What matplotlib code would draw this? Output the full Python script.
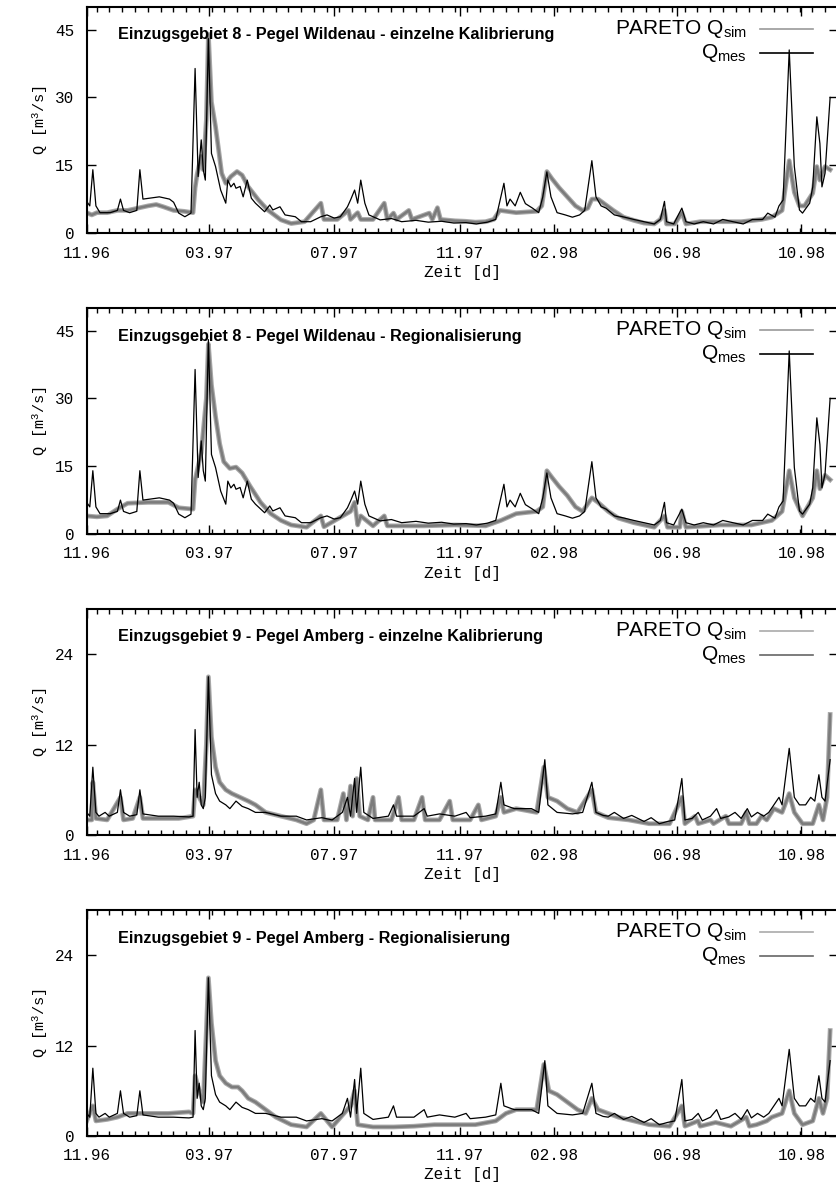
import matplotlib
matplotlib.use("Agg")
import matplotlib.pyplot as plt

plt.rcParams["mathtext.default"] = "regular"

# x axis: days since 1.11.1996
tick_days = [0, 120, 242, 365, 457, 577, 699]
tick_labels = ["11.96", "03.97", "07.97", "11.97", "02.98", "06.98", "10.98"]

# Pegel Wildenau, gemessen (panels 1+2)
mes_w_days = [0, 3, 6, 9, 13, 23, 30, 33, 36, 42, 49, 52, 55, 71, 81, 85, 90, 96, 102, 106,
              109, 112, 114, 116, 119, 122, 126, 131, 136, 138, 141, 144, 146, 150, 153, 157,
              161, 165, 174, 179, 182, 189, 194, 204, 210, 219, 229, 235, 242, 248, 255, 258,
              262, 265, 268, 272, 276, 287, 298, 308, 322, 334, 347, 359, 371, 381, 392, 400,
              405, 408, 411, 414, 419, 424, 429, 436, 442, 446, 450, 454, 460, 468, 475, 482,
              487, 494, 498, 503, 508, 516, 526, 535, 545, 555, 561, 565, 567, 574, 582, 586,
              594, 603, 613, 622, 632, 642, 651, 661, 666, 673, 677, 681, 687, 692, 697, 700,
              707, 710, 714, 717, 719, 722, 727]
mes_w_q = [7, 6, 14, 6, 4.5, 4.5, 5, 7.5, 5, 4.5, 5, 14, 7.5, 8, 7.5, 6.8, 4.4, 3.6, 4.4, 36.4,
           12.5, 20.6, 14, 11.7, 43, 17.6, 14.7, 9.5, 6.6, 11.7, 10.2, 11, 9.9, 10.3, 8, 11.7,
           7.7, 6.6, 4.7, 6.2, 5.1, 5.8, 4, 3.6, 2.5, 2.5, 3.6, 4, 3.3, 3.6, 5.8, 7.3,
           9.5, 6.6, 11.7, 6.6, 4, 2.9, 3.2, 2.5, 2.8, 2.4, 2.6, 2.2, 2.3, 2, 2.4, 3,
           8, 11, 6, 7.5, 6, 9, 6.5, 5.5, 4.5, 8, 13.5, 8, 4.5, 4, 3.5, 4,
           5, 16, 8, 6, 5.5, 4, 3.5, 3, 2.5, 2, 3, 7, 2.5, 2, 5.5, 2.5,
           2, 2.5, 2, 3, 2.5, 2, 3, 3, 4.4, 3.5, 6, 7.3, 40.5, 14.7, 5.1, 4.4,
           6.6, 10.2, 25.7, 19.8, 10.2, 13.2, 30]

# Wildenau, PARETO Simulation - einzelne Kalibrierung
sim1_days = [0, 5, 10, 20, 30, 40, 50, 60, 68, 75, 85, 95, 104, 106, 108, 112, 114, 117, 119,
             122, 126, 129, 132, 136, 141, 147, 152, 158, 168, 177, 190, 200, 213, 229, 232,
             245, 256, 258, 265, 268, 280, 291, 294, 300, 303, 315, 318, 335, 338, 343, 346,
             360, 370, 380, 390, 398, 404, 420, 440, 445, 450, 455, 462, 470, 478, 485, 490,
             494, 500, 506, 515, 525, 535, 545, 555, 561, 565, 567, 575, 582, 586, 600, 620,
             640, 660, 670, 680, 687, 692, 697, 702, 710, 714, 717, 722, 727]
sim1_q = [4.5, 4, 4.5, 4.5, 5, 5, 5.5, 6, 6.3, 5.8, 5, 4.8, 4.5, 10, 13, 17, 14, 25, 44,
          29, 23.5, 18.4, 13.2, 11, 12.5, 13.6, 12.8, 10.2, 7.3, 5.1, 2.9, 2.1, 2.5, 6.6, 3,
          3, 5, 3, 4.5, 3, 3, 6.6, 3, 4.4, 3, 5, 3, 4.4, 3, 5.6, 3,
          2.7, 2.6, 2.4, 2.5, 3, 5, 4.5, 4.8, 6, 13.6, 12, 10, 8, 6, 5, 5.5,
          7.5, 7.5, 6.5, 5, 3.5, 2.8, 2.2, 2, 3, 5, 2, 2, 4.5, 2, 2.5, 2.5,
          2.5, 3, 3.5, 5, 16, 9, 6, 6, 8.8, 14.7, 11.7, 14.7, 14]

# Wildenau, PARETO Simulation - Regionalisierung
sim2_days = [0, 10, 20, 30, 40, 60, 80, 90, 104, 106, 112, 117, 119, 122, 126, 130, 134, 140,
             146, 152, 160, 170, 180, 190, 200, 215, 229, 232, 258, 262, 265, 268, 280, 291,
             294, 300, 330, 360, 390, 405, 420, 440, 446, 450, 455, 462, 470, 478, 485, 494,
             500, 510, 520, 535, 555, 565, 568, 580, 582, 586, 620, 650, 670, 680, 687, 692,
             700, 710, 714, 717, 722, 727]
sim2_q = [4, 3.8, 4, 5.5, 6.8, 7, 7, 5.8, 5.5, 12, 18, 30, 42, 33, 26, 20, 16, 14.5,
          14.8, 13.5, 10.5, 7, 4.5, 3, 2, 1.5, 4, 1.6, 5, 7, 2, 4, 1.8, 4,
          1.8, 1.8, 1.8, 2, 1.8, 3, 4.5, 5, 6, 14, 12.5, 10.5, 8.5, 6, 5, 8,
          7, 5, 3.5, 2.5, 1.5, 4, 1.5, 1.5, 5, 1.5, 2, 2, 3, 5, 14, 8,
          4, 8, 14, 10, 13, 12]

# Pegel Amberg, gemessen (panels 3+4)
mes_a_days = [0, 3, 6, 9, 12, 18, 22, 30, 33, 36, 42, 49, 52, 55, 70, 85, 100, 104, 106, 108,
              110, 112, 114, 116, 119, 122, 126, 130, 136, 140, 146, 152, 158, 165, 175, 190,
              205, 215, 230, 240, 250, 255, 258, 262, 264, 268, 271, 280, 295, 300, 303, 320,
              330, 333, 345, 360, 371, 375, 390, 400, 405, 408, 418, 425, 435, 442, 448, 451,
              460, 475, 485, 494, 498, 505, 510, 516, 525, 533, 545, 552, 560, 568, 575, 582,
              585, 592, 598, 602, 610, 616, 620, 628, 634, 640, 646, 650, 656, 662, 667,
              672, 677, 680, 687, 692, 697, 703, 708, 712, 716, 719, 722, 727]
mes_a_q = [3, 2.5, 9, 3, 2.5, 3, 2.5, 3, 6, 3, 2.5, 2.7, 6, 2.8, 2.5, 2.5, 2.4, 2.5, 14, 5,
           7, 4, 3.5, 5, 21, 8, 5.5, 4.5, 4, 3.5, 4.5, 3.8, 3.5, 3, 3, 2.5,
           2.5, 2, 2.3, 2, 3, 5, 2.5, 7.5, 3, 9, 3, 2.2, 2.5, 4, 2.5, 2.5,
           3.5, 2.5, 2.8, 2.5, 3, 2.3, 2.5, 2.8, 7, 4, 3.5, 3.5, 3.5, 3, 10, 4,
           3, 2.8, 3, 7, 3, 2.6, 2.5, 3, 2.2, 2.6, 1.8, 2.3, 1.5, 1.8, 2, 7.5,
           2, 2.2, 3, 2, 2.5, 3.5, 2.2, 2.5, 3, 2.2, 3.5, 2.4, 3, 2.5, 3,
           4, 5, 4, 11.5, 5, 4, 4, 5, 4.5, 8, 5, 4.5, 10]

# Amberg, PARETO Simulation - einzelne Kalibrierung
sim3_days = [0, 5, 6, 9, 20, 33, 36, 45, 52, 55, 70, 90, 104, 106, 110, 114, 117, 119, 122,
             126, 130, 136, 142, 150, 158, 165, 175, 190, 205, 215, 222, 229, 232, 245, 251,
             254, 258, 260, 264, 267, 275, 280, 282, 298, 305, 308, 320, 328, 331, 345, 355,
             358, 375, 383, 386, 400, 405, 408, 420, 440, 447, 451, 460, 470, 480, 494, 498,
             510, 530, 550, 570, 582, 585, 595, 598, 610, 613, 625, 628, 640, 645, 648, 655,
             660, 665, 672, 680, 687, 692, 700, 710, 716, 720, 724, 727]
sim3_q = [2, 2, 7, 2.2, 2, 5, 2, 2.2, 5, 2.2, 2.2, 2.2, 2.5, 6, 5, 4, 12, 21, 13,
          9, 7, 6, 5.5, 5, 4.5, 4, 3, 2.5, 2, 1.5, 2, 6, 2, 2, 5.5,
          2, 6.5, 2.5, 7.5, 2.5, 2, 5, 2, 2, 5, 2, 2, 5, 2, 2, 4.5,
          2, 2, 4, 2, 2.5, 5, 3, 3.5, 3, 9, 5, 4.5, 3.5, 3, 6, 3,
          2.3, 2, 1.5, 1.5, 5, 1.5, 2.5, 1.5, 2, 1.5, 2.5, 1.5, 1.5, 3, 1.5, 1.5,
          2.5, 2, 3.5, 3, 5.5, 3, 1.5, 1.5, 4, 2, 5, 16]

# Amberg, PARETO Simulation - Regionalisierung
sim4_days = [0, 6, 9, 20, 30, 40, 60, 80, 100, 104, 106, 110, 114, 117, 119, 122, 126, 130,
             136, 142, 148, 152, 158, 165, 175, 185, 200, 215, 229, 240, 258, 262, 265, 280,
             300, 320, 340, 360, 380, 400, 410, 420, 440, 447, 452, 460, 470, 480, 488, 494,
             500, 510, 520, 535, 550, 570, 582, 585, 598, 600, 615, 630, 645, 648, 655, 665,
             670, 680, 687, 692, 700, 710, 716, 720, 724, 727]
sim4_q = [2, 4, 2, 2.2, 2.5, 3, 3, 3, 3.2, 3, 8, 6, 4.5, 14, 21, 15, 10, 8,
          7, 6.5, 6.5, 6, 5, 4.5, 3.5, 2.5, 1.5, 1.2, 3, 1.2, 4, 6, 1.5, 1.2,
          1.2, 1.3, 1.5, 1.5, 1.5, 2, 3, 3.5, 3.5, 9.5, 6, 5.5, 4.5, 3.5, 3, 5,
          3.5, 3, 2.5, 2, 1.5, 1.3, 4, 1.3, 2, 1.3, 1.8, 1.3, 2.5, 1.3, 1.5, 2,
          2.5, 3, 6, 3, 1.5, 2, 5, 3, 5, 14]

titles = ["Einzugsgebiet 8 - Pegel Wildenau - einzelne Kalibrierung",
          "Einzugsgebiet 8 - Pegel Wildenau - Regionalisierung",
          "Einzugsgebiet 9 - Pegel Amberg - einzelne Kalibrierung",
          "Einzugsgebiet 9 - Pegel Amberg - Regionalisierung"]
y_max = [50, 50, 30, 30]
y_ticks = [[0, 15, 30, 45], [0, 15, 30, 45], [0, 12, 24], [0, 12, 24]]

panels = [
    (sim1_days, sim1_q, mes_w_days, mes_w_q, "#999999", "black"),
    (sim2_days, sim2_q, mes_w_days, mes_w_q, "#999999", "black"),
    (sim3_days, sim3_q, mes_a_days, mes_a_q, "#aaaaaa", "#666666"),
    (sim4_days, sim4_q, mes_a_days, mes_a_q, "#aaaaaa", "#666666"),
]

W, H = 836, 1186
fig = plt.figure(figsize=(W / 100, H / 100), dpi=100)
mono = "Liberation Mono"
sans = "Liberation Sans"

def fx(px):
    return px / W

def fy(py):
    return 1 - py / H

left_px, right_px = 86.7, 838.0
tops = [7, 308, 609, 910]
ax_h = 226
minor_days = [9.7 + 12.5 * k for k in range(59)]

for i, (sd, sq, md, mq, leg_sim, leg_mes) in enumerate(panels):
    T = tops[i]
    ax = fig.add_axes([fx(left_px), fy(T + ax_h), (right_px - left_px) / W, ax_h / H])
    ax.plot(sd, sq, color="#a8a8a8", lw=3.4, solid_joinstyle="round")
    ax.plot(sd, sq, color="#7c7c7c", lw=1.8, solid_joinstyle="round")
    ax.plot(md, mq, color="black", lw=0.9)
    ax.set_xlim(0, 727)
    ax.set_ylim(0, y_max[i])
    ax.set_xticks(tick_days)
    ax.set_xticklabels(tick_labels)
    ax.set_xticks(minor_days, minor=True)
    ax.set_yticks(y_ticks[i])
    ax.tick_params(axis="both", which="major", direction="in", length=6.5, width=1.0,
                   top=True, right=True, labelsize=11.5, pad=9)
    ax.tick_params(axis="x", which="minor", direction="in", length=3.3, width=1.0,
                   top=True, bottom=True)
    for lab in ax.get_xticklabels() + ax.get_yticklabels():
        lab.set_fontfamily(mono)
    for sp in ax.spines.values():
        sp.set_linewidth(1.5)

    fig.text(fx(118), fy(T + 28), titles[i], fontfamily=sans, fontweight="bold",
             fontsize=11.7, va="center", ha="left")
    fig.text(fx(747), fy(T + 27), "PARETO Q$_{sim}$", fontfamily=sans, fontsize=15,
             ha="right", va="baseline")
    fig.text(fx(747), fy(T + 51), "Q$_{mes}$", fontfamily=sans, fontsize=15,
             ha="right", va="baseline")
    fig.add_artist(plt.Line2D([fx(760), fx(813)], [fy(T + 22), fy(T + 22)],
                              color=leg_sim, lw=1.2))
    fig.add_artist(plt.Line2D([fx(760), fx(813)], [fy(T + 46), fy(T + 46)],
                              color=leg_mes, lw=1.2))
    fig.text(fx(40), fy(T + 113), "Q [m$^3$/s]", fontfamily=mono, fontsize=11,
             rotation=90, ha="center", va="center")
    fig.text(fx(462), fy(T + 265), "Zeit [d]", fontfamily=mono, fontsize=11.5,
             ha="center", va="center")

fig.savefig("out.png", dpi=100)
